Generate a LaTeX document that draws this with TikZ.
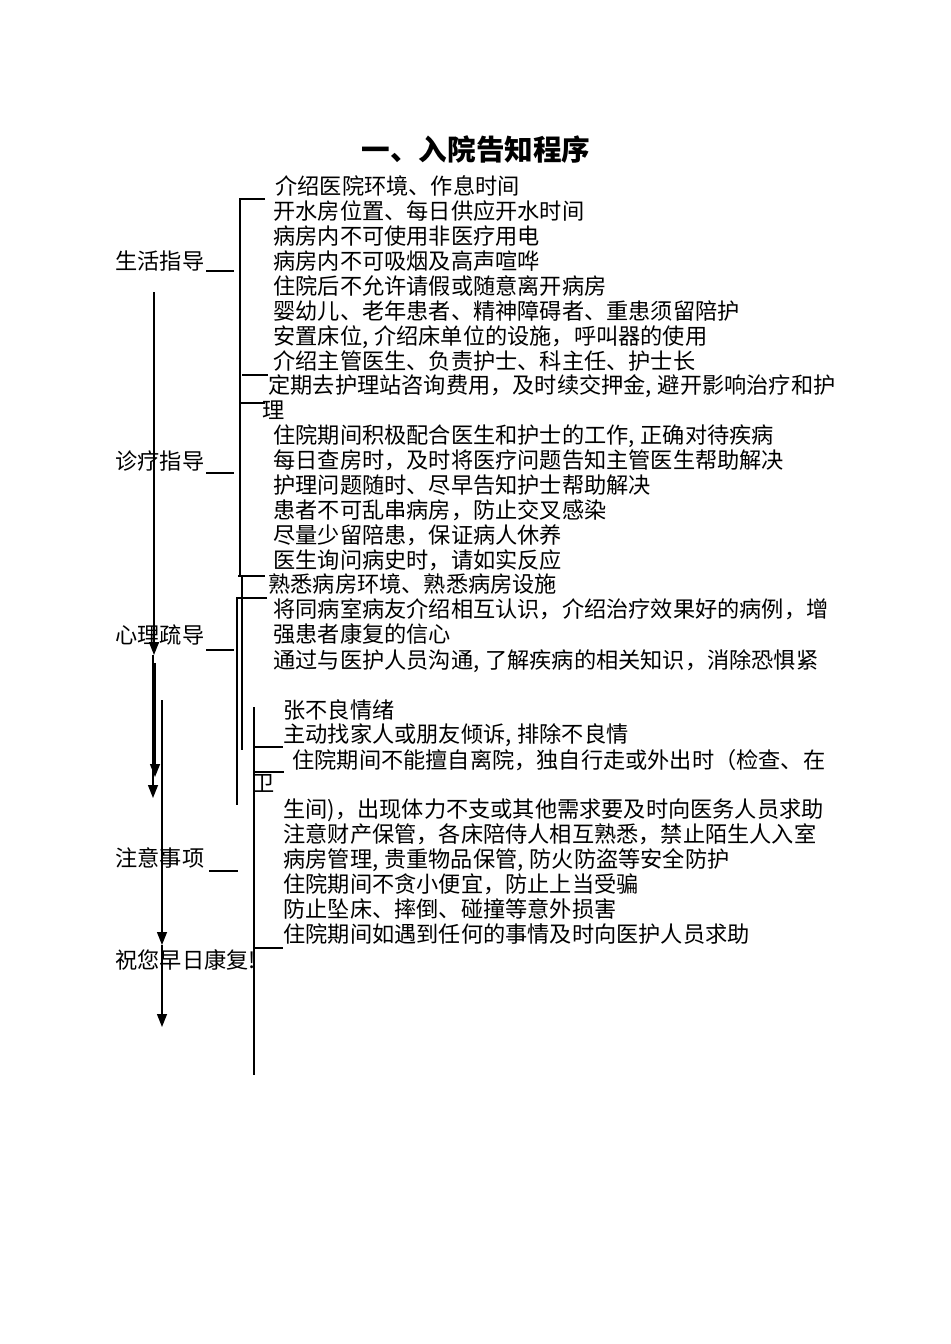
\documentclass[tikz,border=0pt]{standalone}
\usepackage{fontspec}
\setmainfont{Noto Sans CJK SC}
\usetikzlibrary{arrows.meta}
\newcommand{\cm}{,\hspace{3pt}}

\begin{document}
\begin{tikzpicture}[x=0.5pt,y=-0.5pt,
		txt/.style={anchor=west,inner sep=0pt,font=\fontsize{11.1pt}{12pt}\selectfont,text height=9.8pt,text depth=1.3pt},
		ln/.style={line width=0.6pt},
		arr/.style={line width=0.7pt,-{Triangle[length=6.5pt,width=5pt]}}]
		\useasboundingbox (0,0) rectangle (950,1344);
		
		\node[inner sep=0pt,font=\fontsize{14.3pt}{16pt}\selectfont\bfseries] (title) at (476,150) {一、入院告知程序};
		
		% left labels
		\node[txt] (shzd) at (115,261) {生活指导};
		\node[txt] (zlzd) at (115,461) {诊疗指导};
		\node[txt] (xlsd) at (115,635) {心理疏导};
		\node[txt] (zysx) at (115,858) {注意事项};
		\node[txt] (zkf) at (115,960) {祝您早日康复!};
		
		% first group
		\node[txt] (a1) at (275,186) {介绍医院环境、作息时间};
		\node[txt] (a2) at (273,211) {开水房位置、每日供应开水时间};
		\node[txt] (a3) at (273,236) {病房内不可使用非医疗用电};
		\node[txt] (a4) at (273,261) {病房内不可吸烟及高声喧哗};
		\node[txt] (a5) at (273,286) {住院后不允许请假或随意离开病房};
		\node[txt] (a6) at (273,311) {婴幼儿、老年患者、精神障碍者、重患须留陪护};
		\node[txt] (a7) at (273,336) {安置床位\cm 介绍床单位的设施，呼叫器的使用};
		\node[txt] (a8) at (273,361) {介绍主管医生、负责护士、科主任、护士长};
		
		% second group
		\node[txt] (b1) at (268,385) {定期去护理站咨询费用，及时续交押金\cm 避开影响治疗和护};
		\node[txt] (b2) at (262,410) {理};
		\node[txt] (b3) at (273,435) {住院期间积极配合医生和护士的工作\cm 正确对待疾病};
		\node[txt] (b4) at (273,460) {每日查房时，及时将医疗问题告知主管医生帮助解决};
		\node[txt] (b5) at (273,485) {护理问题随时、尽早告知护士帮助解决};
		\node[txt] (b6) at (273,510) {患者不可乱串病房，防止交叉感染};
		\node[txt] (b7) at (273,535) {尽量少留陪患，保证病人休养};
		\node[txt] (b8) at (273,560) {医生询问病史时，请如实反应};
		
		% third group
		\node[txt] (c1) at (268,584) {熟悉病房环境、熟悉病房设施};
		\node[txt] (c2) at (273,609) {将同病室病友介绍相互认识，介绍治疗效果好的病例，增};
		\node[txt] (c3) at (273,634) {强患者康复的信心};
		\node[txt] (c4) at (273,660) {通过与医护人员沟通\cm 了解疾病的相关知识，消除恐惧紧};
		\node[txt] (c5) at (283,710) {张不良情绪};
		\node[txt] (c6) at (283,734) {主动找家人或朋友倾诉\cm 排除不良情};
		
		% fourth group
		\node[txt] (d1) at (292,760) {住院期间不能擅自离院，独自行走或外出时（检查、在};
		\node[txt] (d2) at (252,783) {卫};
		\node[txt] (d3) at (283,809) {生间)，出现体力不支或其他需求要及时向医务人员求助};
		\node[txt] (d4) at (283,834) {注意财产保管，各床陪侍人相互熟悉，禁止陌生人入室};
		\node[txt] (d5) at (283,859) {病房管理\cm 贵重物品保管\cm 防火防盗等安全防护};
		\node[txt] (d6) at (283,884) {住院期间不贪小便宜，防止上当受骗};
		\node[txt] (d7) at (283,909) {防止坠床、摔倒、碰撞等意外损害};
		\node[txt] (d8) at (283,934) {住院期间如遇到任何的事情及时向医护人员求助};
		
		% underlines after the labels
		\draw[ln] (206,271) -- (234,271);
		\draw[ln] (206,473) -- (234,473);
		\draw[ln] (206,650) -- (234,650);
		\draw[ln] (209,871) -- (238,871);
		
		% brackets
		\draw[ln] (265,199) -- (240,199) -- (240,576);
		\draw[ln] (242,375) -- (268,375);
		\draw[ln] (240,403) -- (265,403);
		\draw[ln] (238,576) -- (265,576);
		\draw[ln] (242,576) -- (242,750);
		\draw[ln] (267,598) -- (237,598) -- (237,805);
		\draw[ln] (254,707) -- (254,1075);
		\draw[ln] (255,747) -- (283,747);
		\draw[ln] (255,772) -- (284,772);
		\draw[ln] (255,948) -- (283,948);
		
		% arrows
		\draw[arr] (154,292) -- (154,655);
		\draw[arr] (155,663) -- (155,777);
		\draw[arr] (153,655) -- (153,798);
		\draw[arr] (162,700) -- (162,945);
		\draw[arr] (162,945) -- (162,1027);
	\end{tikzpicture}
\end{document}
